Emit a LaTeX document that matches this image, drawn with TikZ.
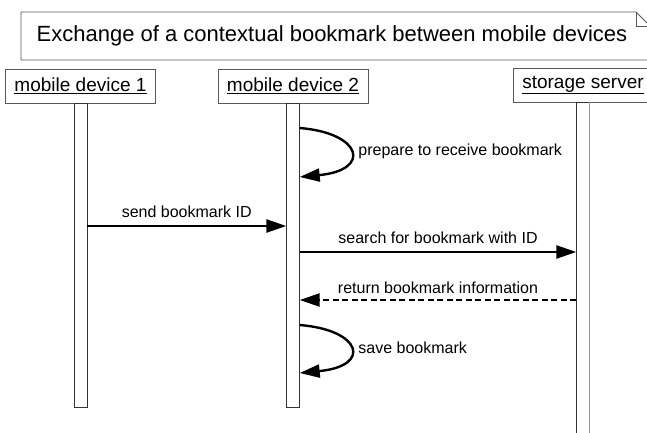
\documentclass[tikz,border=0pt]{standalone}
\usepackage{fontspec}
\setmainfont{Liberation Sans}
\usetikzlibrary{arrows.meta}
\usetikzlibrary{positioning}

\tikzset{
    actor/.style={draw=black!65, fill=white, minimum height=34pt, inner xsep=9pt, font=\fontsize{19}{22}\selectfont},
    lifebar/.style={draw=black!80, fill=white, minimum width=13pt, inner sep=0pt},
    msg/.style={line width=2.4pt, -{Triangle[length=20pt,width=13pt]}},
    reply/.style={msg, dash pattern=on 6pt off 3.5pt},
    lbl/.style={font=\fontsize{16}{19}\selectfont, inner sep=2pt}
}

\begin{document}
\begin{tikzpicture}[x=1pt, y=-1pt]
            \useasboundingbox (0, 0) rectangle (647, 433);
            % title note
            \draw[black!65, line width=0.8pt] (21, 12) -- (636, 12) -- (650, 26) -- (650, 60) -- (21, 60) -- cycle;
            \draw[black!65, line width=0.6pt] (636, 12) -- (636, 26) -- (650, 26);
            \node[font=\fontsize{22}{26}\selectfont] (title) at (332, 36) {Exchange of a contextual bookmark between mobile devices};
            % actors
            \node[actor] (dev1)   at (80.5, 86) {\underline{mobile device 1}};
            \node[actor] (dev2)   at (293, 86)  {\underline{mobile device 2}};
            \node[actor] (server) at (583, 85)  {\underline{storage server}};
            \node[lifebar, minimum height=304pt, below=0pt of dev1]   (bar1) {};
            \node[lifebar, minimum height=304pt, below=0pt of dev2]   (bar2) {};
            \node[lifebar, minimum height=340pt, below=0pt of server] (bar3) {};
            \draw[black!40, line width=0.8pt] (bar3.north east) -- (bar3.south east);
            % messages
            \draw[msg] (bar2.east |- 0, 128) .. controls (362, 133) and (372, 170) .. node[lbl, pos=0.5, right=5pt] (prep) {prepare to receive bookmark} (bar2.east |- 0, 177);
            \draw[msg] (bar1.east |- 0, 226) -- node[lbl, above=5pt] (send) {send bookmark ID} (bar2.west |- 0, 226);
            \draw[msg] (bar2.east |- 0, 252) -- node[lbl, above=5pt] (search) {search for bookmark with ID} (bar3.west |- 0, 252);
            \draw[reply] (bar3.west |- 0, 300) -- node[lbl, above=3pt] (back) {return bookmark information} (bar2.east |- 0, 300);
            \draw[msg] (bar2.east |- 0, 325) .. controls (362, 330) and (372, 366) .. node[lbl, pos=0.5, right=5pt] (save) {save bookmark} (bar2.east |- 0, 373);
        \end{tikzpicture}
\end{document}
